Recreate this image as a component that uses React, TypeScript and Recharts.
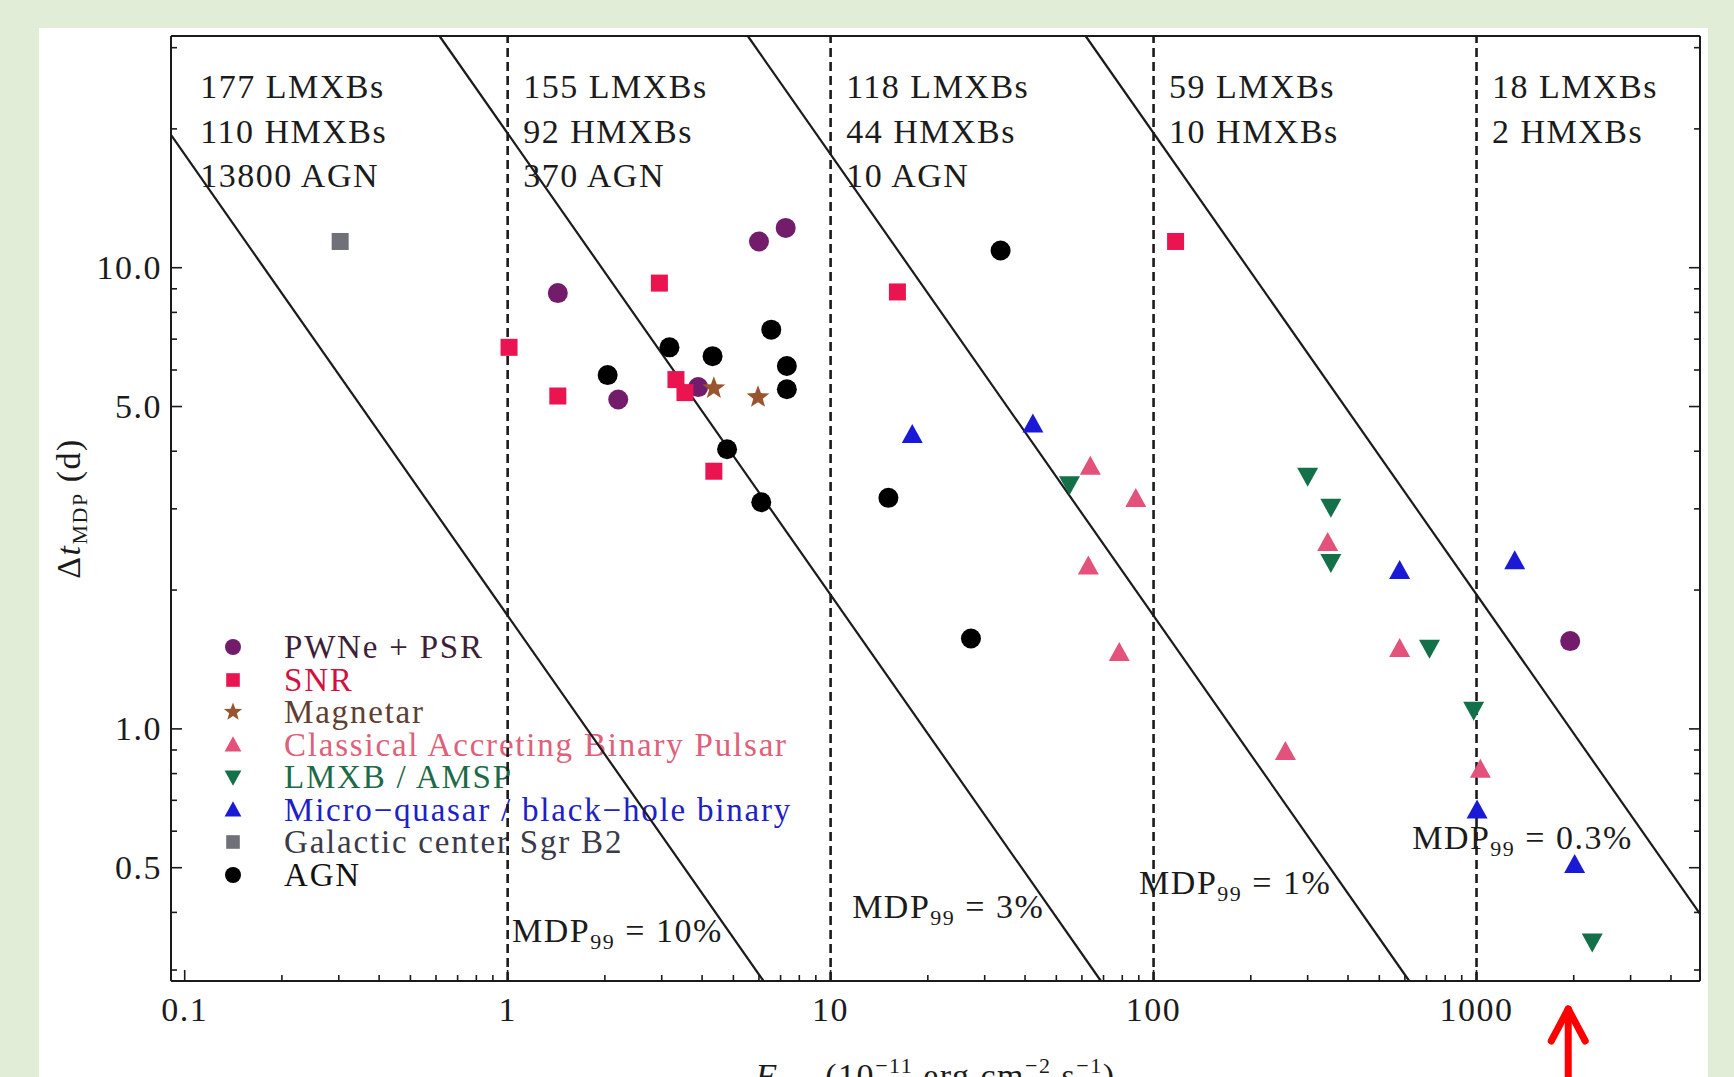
import React from 'react';
import {
  ScatterChart,
  Scatter,
  XAxis,
  YAxis,
  ReferenceLine,
  ReferenceDot,
  Legend,
  Label,
} from 'recharts';

const serif = '"Liberation Serif", "Times New Roman", Times, serif';
const ink = '#1b1b1b';

// flux F(2-8 keV) in 1e-11 erg/cm2/s, time to reach MDP in days
const pwnFlux = [1.43, 2.2, 3.89, 6.0, 7.26, 1950];
const pwnTime = [8.81, 5.18, 5.51, 11.4, 12.2, 1.55];

const snrFlux = [1.01, 1.43, 2.95, 3.32, 3.54, 4.35, 16.1, 117];
const snrTime = [6.72, 5.27, 9.26, 5.72, 5.36, 3.62, 8.86, 11.4];

const magFlux = [4.35, 5.96];
const magTime = [5.48, 5.24];

const pulsarFlux = [63.7, 88.1, 62.8, 78.3, 256, 346, 578, 1028];
const pulsarTime = [3.7, 3.15, 2.25, 1.46, 0.891, 2.53, 1.49, 0.815];

const lmxbFlux = [54.9, 300, 354, 354, 715, 980, 2282];
const lmxbTime = [3.39, 3.54, 3.03, 2.3, 1.5, 1.1, 0.346];

const mqFlux = [17.9, 42.3, 578, 1313, 1004, 2013];
const mqTime = [4.34, 4.57, 2.2, 2.31, 0.665, 0.507];

const gcFlux = [0.303];
const gcTime = [11.4];

const agnFlux = [2.04, 3.17, 4.31, 6.55, 7.32, 7.32, 4.78, 6.1, 33.6, 15.1, 27.2];
const agnTime = [5.85, 6.72, 6.43, 7.34, 6.12, 5.45, 4.04, 3.1, 10.9, 3.17, 1.57];

// source counts per flux decade
const regionFlux = [0.1117, 1.117, 11.17, 111.7, 1117];
const regionLmxb = [177, 155, 118, 59, 18];
const regionHmxb = [110, 92, 44, 10, 2];
const regionAgn = [13800, 370, 10, null, null];
const regionTextTime = 23.3;

// MDP99 lines (slope -1 in log-log), end points
const mdpNames = ['10%', '3%', '1%', '0.3%'];
const mdpStartFlux = [0.0907, 0.615, 5.54, 61.6];
const mdpStartTime = [19.4, 31.8, 31.8, 31.8];
const mdpEndFlux = [6.2, 68.7, 619, 4920];
const mdpEndTime = [0.284, 0.284, 0.284, 0.397];
const mdpLabelFlux = [1.032, 11.66, 90.2, 632];
const mdpLabelTime = [0.345, 0.389, 0.438, 0.549];

const decadeBounds = [1, 10, 100, 1000];
const arrowFlux = 1923;

const xDomain = [0.0907, 4920];
const yDomain = [0.284, 31.8];
const xMajor = [0.1, 1, 10, 100, 1000];
const xMinor = [
  0.2, 0.3, 0.4, 0.5, 0.6, 0.7, 0.8, 0.9, 2, 3, 4, 5, 6, 7, 8, 9, 20, 30, 40, 50, 60, 70, 80, 90,
  200, 300, 400, 500, 600, 700, 800, 900, 2000, 3000, 4000,
];
const yMajor = [0.5, 1, 5, 10];
const yMinor = [0.3, 0.4, 0.6, 0.7, 0.8, 0.9, 2, 3, 4, 6, 7, 8, 9, 20, 30];
const xTicks = [...xMajor, ...xMinor].sort((a, b) => a - b);
const yTicks = [...yMajor, ...yMinor].sort((a, b) => a - b);

const zip = (xs: number[], ys: number[]) => xs.map((x, i) => ({ x, y: ys[i] }));

const categories = [
  { name: 'PWNe + PSR', marker: 'circle', fill: '#721c6b', text: '#3d1f38', data: zip(pwnFlux, pwnTime) },
  { name: 'SNR', marker: 'square', fill: '#ea1450', text: '#d41040', data: zip(snrFlux, snrTime) },
  { name: 'Magnetar', marker: 'star', fill: '#98552f', text: '#5e4030', data: zip(magFlux, magTime) },
  { name: 'Classical Accreting Binary Pulsar', marker: 'up', fill: '#e2527a', text: '#e0607a', data: zip(pulsarFlux, pulsarTime) },
  { name: 'LMXB / AMSP', marker: 'down', fill: '#137049', text: '#1d6a48', data: zip(lmxbFlux, lmxbTime) },
  { name: 'Micro\u2212quasar / black\u2212hole binary', marker: 'up', fill: '#1a1ad6', text: '#2020c8', data: zip(mqFlux, mqTime) },
  { name: 'Galactic center Sgr B2', marker: 'square', fill: '#707078', text: '#3a3a48', data: zip(gcFlux, gcTime) },
  { name: 'AGN', marker: 'circle', fill: '#000000', text: '#111111', data: zip(agnFlux, agnTime) },
];

function Marker({ kind, cx, cy, fill, scale = 1 }: any) {
  const s = scale;
  if (kind === 'circle') return <circle cx={cx} cy={cy} r={10 * s} fill={fill} />;
  if (kind === 'square') return <rect x={cx - 8.5 * s} y={cy - 8.5 * s} width={17 * s} height={17 * s} fill={fill} />;
  if (kind === 'up') {
    return <polygon points={`${cx},${cy - 11 * s} ${cx - 10.5 * s},${cy + 8 * s} ${cx + 10.5 * s},${cy + 8 * s}`} fill={fill} />;
  }
  if (kind === 'down') {
    return <polygon points={`${cx},${cy + 11 * s} ${cx - 10.5 * s},${cy - 8 * s} ${cx + 10.5 * s},${cy - 8 * s}`} fill={fill} />;
  }
  const pts: string[] = [];
  for (let i = 0; i < 10; i++) {
    const r = (i % 2 === 0 ? 12 : 5) * s;
    const a = -Math.PI / 2 + (i * Math.PI) / 5;
    pts.push(`${cx + r * Math.cos(a)},${cy + r * Math.sin(a)}`);
  }
  return <polygon points={pts.join(' ')} fill={fill} />;
}

const textStyle = { fontFamily: serif, fontSize: 34, letterSpacing: 1.5, fill: ink };

function BottomTick({ x, y, payload }: any) {
  const major = xMajor.includes(payload.value);
  return (
    <g>
      <line x1={x} x2={x} y1={y} y2={y - (major ? 11 : 6)} stroke={ink} strokeWidth={1.6} />
      {major && (
        <text x={x} y={y + 40} textAnchor="middle" style={textStyle}>
          {String(payload.value)}
        </text>
      )}
    </g>
  );
}

function TopTick({ x, y, payload }: any) {
  const major = xMajor.includes(payload.value);
  return <line x1={x} x2={x} y1={y} y2={y + (major ? 11 : 6)} stroke={ink} strokeWidth={1.6} />;
}

function LeftTick({ x, y, payload }: any) {
  const major = yMajor.includes(payload.value);
  return (
    <g>
      <line x1={x} x2={x + (major ? 11 : 6)} y1={y} y2={y} stroke={ink} strokeWidth={1.6} />
      {major && (
        <text x={x - 9} y={y + 11.5} textAnchor="end" style={textStyle}>
          {payload.value.toFixed(1)}
        </text>
      )}
    </g>
  );
}

function RightTick({ x, y, payload }: any) {
  const major = yMajor.includes(payload.value);
  return <line x1={x} x2={x - (major ? 11 : 6)} y1={y} y2={y} stroke={ink} strokeWidth={1.6} />;
}

const renderYLabel = (props: any) => {
  const { x, y, height } = props.viewBox;
  const cx = x + 80;
  const cy = y + height / 2;
  return (
    <text x={cx} y={cy} transform={`rotate(-90, ${cx}, ${cy})`} textAnchor="middle" style={textStyle}>
      {'\u0394'}
      <tspan fontStyle="italic">t</tspan>
      <tspan dy={7} fontSize={22}>MDP</tspan>
      <tspan dy={-7}> (d)</tspan>
    </text>
  );
};

const renderXLabel = (props: any) => {
  const { x, y, width } = props.viewBox;
  return (
    <text x={x + width / 2} y={y + 106} textAnchor="middle" style={textStyle}>
      <tspan fontStyle="italic">F</tspan>
      <tspan dy={7} fontSize={22}>2{'\u2013'}8</tspan>
      <tspan dy={-7}> (10</tspan>
      <tspan dy={-14} fontSize={22}>{'\u2212'}11</tspan>
      <tspan dy={14}> erg cm</tspan>
      <tspan dy={-14} fontSize={22}>{'\u2212'}2</tspan>
      <tspan dy={14}> s</tspan>
      <tspan dy={-14} fontSize={22}>{'\u2212'}1</tspan>
      <tspan dy={14}>)</tspan>
    </text>
  );
};

const countsShape = (lines: string[]) => (p: any) => (
  <text x={p.cx} y={p.cy} style={textStyle}>
    {lines.map((l, i) => (
      <tspan key={i} x={p.cx} dy={i === 0 ? 0 : 44.5}>
        {l}
      </tspan>
    ))}
  </text>
);

const mdpShape = (label: string) => (p: any) => (
  <text x={p.cx} y={p.cy} style={textStyle}>
    MDP
    <tspan dy={7} fontSize={22}>99</tspan>
    <tspan dy={-7}> = {label}</tspan>
  </text>
);

const arrowShape = (p: any) => (
  <g stroke="#ff0000" strokeWidth={7} strokeLinecap="round" strokeLinejoin="round" fill="none">
    <line x1={p.cx} y1={p.cy + 28} x2={p.cx} y2={p.cy + 130} />
    <polyline points={`${p.cx - 17},${p.cy + 60} ${p.cx},${p.cy + 28} ${p.cx + 17},${p.cy + 60}`} />
  </g>
);

// legend is drawn in the order of the categories list
const renderLegend = () => (
  <div style={{ fontFamily: serif, fontSize: 33, letterSpacing: 1.8 }}>
    {categories.map((cat) => (
      <div key={cat.name} style={{ display: 'flex', alignItems: 'center', height: 32.5, lineHeight: '32.5px' }}>
        <svg width={36} height={32} style={{ overflow: 'visible', flex: 'none' }}>
          <Marker kind={cat.marker} cx={18} cy={16} fill={cat.fill} scale={0.8} />
        </svg>
        <span style={{ marginLeft: 33, color: cat.text, whiteSpace: 'nowrap' }}>{cat.name}</span>
      </div>
    ))}
  </div>
);

export default function App() {
  return (
    <div style={{ position: 'relative', width: 1734, height: 1077, background: '#e1edd6', overflow: 'hidden' }}>
      <style>{'body{margin:0}'}</style>
      <div style={{ position: 'absolute', left: 39, top: 28, width: 1669, height: 1049, background: '#ffffff' }} />
      <div style={{ position: 'absolute', left: 0, top: 0, zIndex: 0 }}>
        <ScatterChart width={1734} height={1077} margin={{ top: 35, right: 33, bottom: 0, left: 0 }}>
          <XAxis
            dataKey="x"
            type="number"
            scale="log"
            domain={xDomain}
            allowDataOverflow
            ticks={xTicks}
            interval={0}
            height={96}
            tickSize={0}
            tickMargin={0}
            tickLine={false}
            axisLine={{ stroke: ink, strokeWidth: 2 }}
            tick={<BottomTick />}
          >
            <Label content={renderXLabel} />
          </XAxis>
          <XAxis
            xAxisId="top"
            orientation="top"
            type="number"
            scale="log"
            domain={xDomain}
            allowDataOverflow
            ticks={xTicks}
            interval={0}
            height={1}
            tickSize={0}
            tickMargin={0}
            tickLine={false}
            axisLine={{ stroke: ink, strokeWidth: 2 }}
            tick={<TopTick />}
          />
          <YAxis
            dataKey="y"
            type="number"
            scale="log"
            domain={yDomain}
            allowDataOverflow
            ticks={yTicks}
            interval={0}
            width={171}
            tickSize={0}
            tickMargin={0}
            tickLine={false}
            axisLine={{ stroke: ink, strokeWidth: 2 }}
            tick={<LeftTick />}
          >
            <Label content={renderYLabel} />
          </YAxis>
          <YAxis
            yAxisId="right"
            orientation="right"
            type="number"
            scale="log"
            domain={yDomain}
            allowDataOverflow
            ticks={yTicks}
            interval={0}
            width={1}
            tickSize={0}
            tickMargin={0}
            tickLine={false}
            axisLine={{ stroke: ink, strokeWidth: 2 }}
            tick={<RightTick />}
          />

          {regionFlux.map((f, i) => (
            <ReferenceDot
              key={`count-${i}`}
              x={f}
              y={regionTextTime}
              ifOverflow="visible"
              shape={countsShape(
                [`${regionLmxb[i]} LMXBs`, `${regionHmxb[i]} HMXBs`].concat(
                  regionAgn[i] !== null ? [`${regionAgn[i]} AGN`] : [],
                ),
              )}
            />
          ))}
          {mdpNames.map((n, i) => (
            <ReferenceDot
              key={`mdp-label-${n}`}
              x={mdpLabelFlux[i]}
              y={mdpLabelTime[i]}
              ifOverflow="visible"
              shape={mdpShape(n)}
            />
          ))}
          {decadeBounds.map((b) => (
            <ReferenceLine key={`dec-${b}`} x={b} stroke={ink} strokeWidth={2.6} strokeDasharray="9 5" />
          ))}
          {mdpNames.map((n, i) => (
            <ReferenceLine
              key={`mdp-${n}`}
              ifOverflow="visible"
              segment={[
                { x: mdpStartFlux[i], y: mdpStartTime[i] },
                { x: mdpEndFlux[i], y: mdpEndTime[i] },
              ]}
              stroke={ink}
              strokeWidth={2.2}
            />
          ))}
          <ReferenceDot x={arrowFlux} y={yDomain[0]} ifOverflow="visible" shape={arrowShape} />

          {categories.map((c) => (
            <Scatter
              key={c.name}
              name={c.name}
              data={c.data}
              fill={c.fill}
              isAnimationActive={false}
              shape={(p: any) => <Marker kind={c.marker} cx={p.cx} cy={p.cy} fill={c.fill} />}
            />
          ))}

          <Legend
            layout="vertical"
            align="center"
            verticalAlign="middle"
            content={renderLegend}
            wrapperStyle={{ left: 215, top: 631, width: 600, zIndex: -1 }}
          />
        </ScatterChart>
      </div>
    </div>
  );
}
